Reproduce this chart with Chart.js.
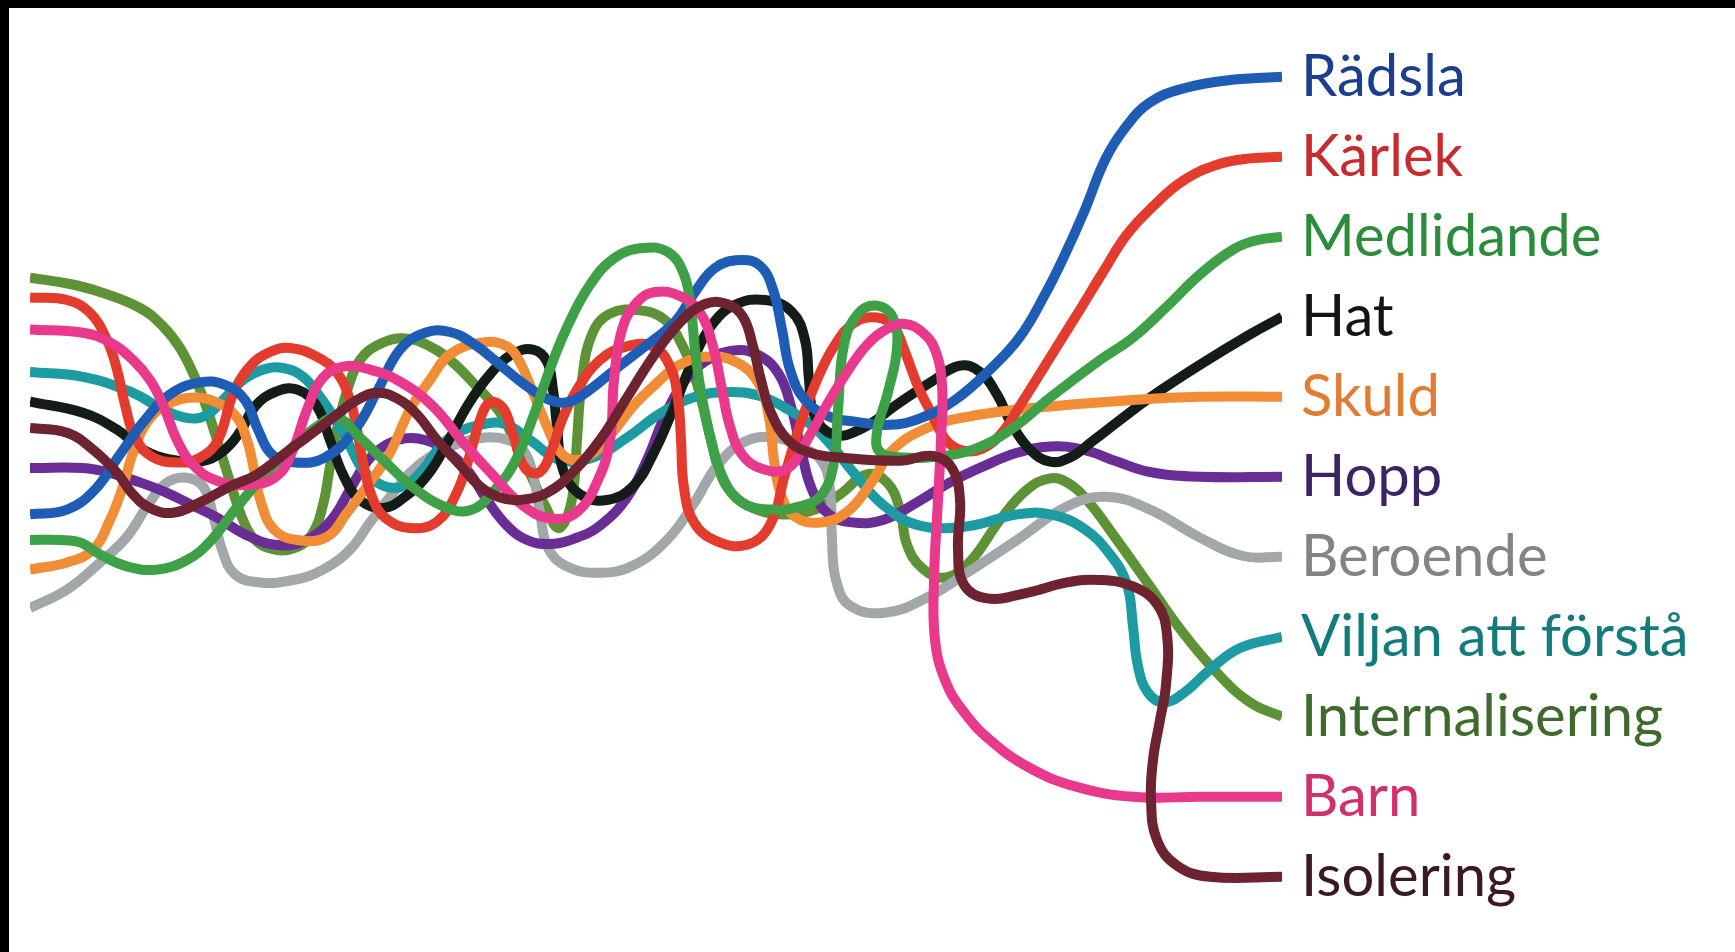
<!DOCTYPE html>
<html>
<head>
<meta charset="utf-8">
<script src="https://cdn.jsdelivr.net/npm/chart.js@4/dist/chart.umd.min.js"></script>
<style>
  html, body { margin: 0; padding: 0; background: #ffffff; overflow: hidden; }
  #wrap { width: 1735px; height: 952px; }
</style>
</head>
<body>
<div id="wrap"><canvas id="c" width="1735" height="952"></canvas></div>
<script>
// Categories (label rows, top to bottom) and their row values
const categories = ["Rädsla", "Kärlek", "Medlidande", "Hat", "Skuld", "Hopp", "Beroende", "Viljan att förstå", "Internalisering", "Barn", "Isolering"];
const rowValues  = [100, 90, 80, 70, 60, 50, 40, 30, 20, 10, 0];

// Series values (x = progress, y = level)
const radslaX = [0,3.7,6.5,9.0,11.5,14.0,17.0,19.5,21.5,22.8,24.2,26.5,29.5,32.5,34.8,37.0,39.5,42.0,44.5,47.0,49.5,52.0,54.0,56.0,58.5,61.5,64.5,66.5,68.5,71.0,73.0,74.3,75.2,76.0,77.5,80.0,82.5,86.0,89.0,92.5,96.0,99.0,101.5,103.5,105.5,107.5,109.5,112.0,115.5,120.0,125.2];
const radslaY = [45.3,45.9,48.4,52.8,57.1,60.3,61.8,61.5,59.6,55.9,52.8,51.8,52.4,55.9,60.9,65.9,68.0,68.1,66.5,64.0,61.5,59.6,59.4,60.9,63.4,66.3,69.4,73.1,76.1,77.1,76.4,73.4,68.4,63.4,59.6,57.5,56.9,56.5,57.3,59.6,63.4,67.5,72.8,77.8,83.4,89.6,93.6,96.8,98.6,99.6,100];

const karlekX = [0,3.7,6.0,7.7,8.7,9.5,10.5,12.2,14.7,17.0,18.8,20.3,22.0,24.0,26.0,28.7,30.7,32.0,32.7,33.3,34.2,35.5,38.0,40.7,42.7,44.0,45.0,46.0,47.3,48.3,49.5,51.0,52.3,53.2,54.7,57.0,59.7,62.3,64.0,64.8,65.1,65.4,66.4,68.6,71.7,74.0,75.5,77.0,78.7,80.5,82.5,84.7,86.3,87.5,88.8,90.2,91.6,93.2,95.2,97.2,99.2,102.3,105.0,107.3,109.7,112.3,115.3,118.7,122.0,125.2];
const karlekY = [72.4,72.1,70.5,67.1,63.4,59.0,55.0,52.5,51.8,52.4,54.6,60.3,63.8,65.6,66.1,65.0,63.0,59.6,55.9,51.8,47.5,44.9,43.6,44.4,48.1,52.8,57.1,59.3,58.6,55.3,51.1,50.6,53.8,57.1,60.9,64.6,66.3,66.3,63.8,59.6,54.6,48.6,44.3,42.0,41.5,44.0,50.3,56.5,62.1,66.5,69.3,69.9,68.9,65.6,61.3,57.8,54.6,53.3,53.5,55.5,59.3,65.5,70.9,75.6,80.3,83.8,87.0,89.0,89.8,90];

const medlidandeX = [0,3.0,5.0,7.0,9.7,12.7,15.7,18.0,20.5,23.2,26.0,28.5,30.7,33.0,35.5,38.0,41.0,44.0,46.5,48.5,50.2,51.8,53.6,56.0,58.5,61.3,63.8,65.4,66.1,66.5,67.1,68.1,69.4,71.2,74.0,77.0,79.2,80.4,80.8,81.4,82.8,84.7,86.3,86.7,85.8,84.7,85.0,87.5,90.5,94.3,98.3,102.0,107.0,110.3,113.7,117.0,120.3,122.8,125.2];
const medlidandeY = [42.1,42.1,41.8,40.3,38.8,38.4,39.6,41.9,45.9,49.9,53.4,56.1,57.4,54.9,51.9,49.0,46.5,45.8,48.4,51.9,57.1,62.8,68.4,74.0,77.4,78.6,78.1,75.3,70.9,65.9,60.6,54.6,49.6,46.8,45.9,46.3,47.8,51.9,58.4,66.5,70.4,71.4,69.9,66.1,60.6,55.6,53.1,52.4,52.5,53.4,56.1,59.9,64.6,67.4,71.3,75.3,78.4,79.6,80];

const hatX = [0,5.3,8.7,11.3,14.3,17.0,19.2,21.0,22.5,24.5,26.7,28.7,30.0,31.3,33.0,35.3,37.5,39.8,41.8,43.8,46.0,48.2,50.3,51.7,52.3,52.7,53.3,55.0,57.7,60.3,62.3,64.3,66.3,68.2,70.5,73.5,76.2,77.5,77.9,78.4,80.3,83.0,87.0,90.3,93.0,95.0,96.7,98.2,100.0,102.0,104.0,106.2,109.0,112.0,117.0,122.0,125.2];
const hatY = [59.4,58.0,55.9,53.4,52.1,51.9,53.1,55.6,58.8,60.6,60.9,58.8,54.6,50.3,47.1,46.1,47.5,50.3,54.4,59.0,62.8,65.3,65.9,64.4,60.9,56.3,50.9,47.8,47.1,48.8,52.8,58.4,64.6,69.0,71.5,72.1,70.6,67.1,62.1,57.8,55.3,55.9,59.3,62.0,63.9,63.1,60.3,56.5,53.4,51.9,52.4,54.4,57.1,59.9,64.0,67.8,70];

const skuldX = [0,3.7,6.3,8.0,9.3,10.3,11.7,13.7,16.5,19.0,20.7,21.7,22.4,23.1,24.4,26.7,29.7,31.7,33.7,36.0,38.0,40.0,42.0,45.3,47.7,49.0,50.3,51.7,53.0,54.5,56.5,58.3,60.3,62.5,64.7,67.5,70.5,72.8,73.9,74.4,75.1,76.5,79.0,81.7,84.2,86.3,89.7,93.7,100.3,110.3,117.0,125.2];
const skuldY = [38.4,39.3,40.9,44.6,48.8,53.0,56.8,59.0,59.9,59.1,57.4,54.6,50.9,46.8,43.4,42.1,42.5,45.5,48.8,53.0,58.4,62.1,65.3,66.8,66.3,64.3,60.5,56.3,53.1,52.1,53.1,55.6,58.8,61.5,63.8,65.0,64.4,61.8,57.4,52.1,47.8,45.0,44.3,45.6,49.4,53.4,56.1,57.5,58.6,59.6,60,60];

const hoppX = [0,5.3,8.0,11.0,13.7,16.3,18.7,21.5,24.5,27.3,30.0,32.0,33.7,35.5,37.5,39.5,41.5,43.7,45.7,47.7,49.7,52.0,54.5,57.0,59.7,61.8,63.3,65.2,67.5,70.5,73.0,74.9,76.1,77.1,78.2,79.8,82.2,85.3,88.7,92.0,95.5,98.7,102.0,105.3,108.7,112.0,117.0,125.2];
const hoppY = [51.1,51.1,50.5,49.3,48.0,46.4,44.9,42.8,41.5,41.9,44.4,48.4,51.9,53.9,54.8,54.6,53.4,50.9,47.1,43.9,42.1,41.6,42.3,43.9,47.4,52.4,57.1,61.5,64.4,65.8,65.1,62.8,58.8,53.4,48.4,45.4,44.3,44.6,46.8,49.3,51.4,53.0,53.8,53.4,51.9,50.6,50,50];

const beroendeX = [0,3.7,7.0,9.7,11.7,13.5,15.5,17.3,18.3,19.2,20.5,23.0,26.3,29.3,32.0,34.0,36.0,38.0,40.0,42.5,45.5,47.8,49.3,50.3,51.0,51.8,53.7,57.0,60.3,63.7,66.3,68.8,71.5,74.3,77.0,79.2,80.0,80.2,80.6,82.0,85.5,89.7,93.7,98.7,103.7,107.7,112.0,117.0,121.3,125.2];
const beroendeY = [33.6,35.9,39.3,42.5,46.3,49.1,49.9,48.8,45.3,40.9,37.8,36.8,37.1,38.4,40.9,44.3,47.5,50.5,52.5,54.0,54.9,54.6,53.4,50.3,45.5,41.1,38.8,38.0,38.9,42.1,46.5,51.5,54.4,54.9,53.8,51.9,48.4,42.1,37.1,33.9,33.0,34.9,38.0,42.1,46.3,47.5,45.9,42.4,40.1,40];

const viljanX = [0,5.3,10.3,13.0,15.5,17.5,19.3,21.3,23.3,25.3,27.3,29.0,30.7,32.0,33.3,35.3,37.3,39.3,41.0,42.7,45.0,47.5,50.0,53.0,56.3,59.7,63.0,66.3,69.7,73.0,75.7,78.3,80.5,82.5,85.3,88.7,93.7,98.7,102.0,105.3,108.0,109.7,110.3,110.8,111.8,113.4,115.5,118.0,121.0,125.2];
const viljanY = [63.1,62.5,60.5,58.6,57.4,57.6,59.6,62.1,63.4,63.6,62.5,60.0,56.8,53.8,50.9,48.9,48.8,50.9,53.8,55.5,56.5,56.6,54.6,52.1,52.4,54.9,57.9,59.9,60.6,60.1,58.5,56.3,53.4,50.3,46.5,44.0,43.8,45.3,45.3,43.6,40.3,36.5,31.3,26.3,23.0,21.8,23.1,25.9,28.6,30];

const internaliseringX = [0,4.0,7.0,11.0,13.3,15.0,16.5,17.8,19.0,20.1,21.2,22.5,24.5,26.5,28.2,29.3,30.0,30.8,31.8,33.0,35.0,37.5,40.0,42.2,44.5,47.0,48.7,50.3,51.7,52.8,53.8,54.4,54.7,55.2,56.2,58.0,61.0,63.5,65.2,66.4,67.3,68.1,69.0,70.3,72.3,75.3,78.5,81.0,83.7,85.7,87.0,87.7,89.2,91.5,94.0,97.0,99.7,102.0,103.7,105.7,108.7,112.0,115.3,118.7,122.0,125.2];
const internaliseringY = [74.9,74.1,73.1,71.1,68.8,66.1,62.4,58.1,53.4,49.0,44.9,42.1,40.9,41.1,42.8,46.5,51.3,56.5,61.1,64.6,66.6,67.3,66.3,64.4,61.5,58.0,53.8,49.6,45.9,43.6,45.3,49.0,54.6,62.1,67.8,70.4,70.8,69.6,66.5,62.8,58.8,54.6,50.5,47.8,46.1,45.3,45.9,47.8,50.3,49.3,45.9,41.5,38.6,37.4,39.4,44.6,48.4,49.8,49.3,47.1,42.1,36.3,30.5,25.5,21.8,20];

const barnX = [0,5.3,8.0,10.3,12.0,13.3,14.7,16.3,18.7,22.0,24.7,26.3,27.7,29.3,31.5,34.0,37.0,40.3,43.3,46.0,49.2,52.0,54.7,56.8,58.0,58.4,59.2,60.7,62.5,65.0,67.0,68.3,69.2,70.0,71.2,73.2,75.7,77.7,79.7,81.7,83.7,85.7,87.5,89.2,90.5,91.2,91.1,90.8,90.4,90.5,91.5,93.2,96.0,100.0,104.5,110.3,117.0,125.2];
const barnY = [68.4,68.0,66.8,64.6,62.1,59.0,54.6,51.5,49.5,49.0,50.1,53.4,58.4,62.4,63.8,63.4,61.9,58.8,54.3,50.6,46.5,44.8,45.6,49.6,54.6,62.1,68.4,71.8,73.1,72.6,70.5,66.3,60.9,56.3,52.8,51.0,51.0,54.6,59.0,63.1,66.5,68.5,69.1,68.1,65.9,61.5,54.6,47.1,37.1,29.6,24.6,20.9,17.1,13.6,11.3,10.0,10,10];

const isoleringX = [0,3.7,6.3,8.7,10.3,12.0,14.3,17.0,20.0,22.7,26.0,28.7,30.7,32.7,34.7,36.7,38.7,40.7,43.0,45.0,47.0,49.0,51.7,54.3,57.0,59.7,62.3,65.0,67.5,69.7,71.3,72.3,73.1,74.1,75.8,78.0,81.0,87.0,90.3,92.2,93.0,92.8,93.4,95.7,99.7,103.7,107.0,110.3,112.7,113.7,113.6,113.0,112.3,112.1,112.7,114.7,118.0,125.2];
const isoleringY = [56.1,55.5,53.4,50.5,47.8,46.1,45.5,46.8,48.8,50.3,53.4,55.9,57.8,59.6,60.5,59.8,57.8,54.6,51.5,48.8,47.4,47.1,48.0,50.6,54.6,59.9,65.0,69.3,71.6,71.6,70.0,66.3,62.1,58.0,54.6,53.0,52.4,52.0,52.6,51.1,47.1,41.1,36.5,34.8,35.5,36.8,37.1,36.3,34.1,30.3,24.0,19.6,14.6,9.6,4.6,1.4,0,0];

// Styles
const lineColors = ["#1e5cb6", "#e33b2d", "#3ea147", "#141c18", "#f18d36", "#6a2c95", "#a2a7a9", "#1c9ba2", "#5e9236", "#e8398d", "#6e2331"];
const textColors = ["#1b3f8e", "#c72b2f", "#2b8c3c", "#141414", "#e27c33", "#3c2366", "#7f8486", "#147b7d", "#3e6b2d", "#d2306b", "#3b1a1f"];

const seriesX = [radslaX, karlekX, medlidandeX, hatX, skuldX, hoppX, beroendeX, viljanX, internaliseringX, barnX, isoleringX];
const seriesY = [radslaY, karlekY, medlidandeY, hatY, skuldY, hoppY, beroendeY, viljanY, internaliseringY, barnY, isoleringY];

const drawOrder = [3, 4, 2, 6, 5, 8, 9, 7, 10, 1, 0];

const datasets = categories.map((name, i) => ({
  label: name,
  data: seriesX[i].map((x, k) => ({ x: x, y: seriesY[i][k] })),
  borderColor: lineColors[i],
  backgroundColor: lineColors[i],
  borderWidth: 10,
  borderCapStyle: 'butt',
  borderJoinStyle: 'round',
  pointRadius: 0,
  pointHoverRadius: 0,
  showLine: true,
  fill: false,
  tension: 0.42,
  order: drawOrder[i]
}));

const frame = {
  id: 'frame',
  beforeDraw(chart) {
    const ctx = chart.ctx;
    ctx.save();
    ctx.fillStyle = '#ffffff';
    ctx.fillRect(0, 0, chart.width, chart.height);
    ctx.fillStyle = '#000000';
    ctx.fillRect(0, 0, chart.width, 8);
    ctx.fillRect(0, 0, 9, chart.height);
    ctx.restore();
  }
};

new Chart(document.getElementById('c'), {
  type: 'scatter',
  data: { datasets: datasets },
  plugins: [frame],
  options: {
    responsive: false,
    devicePixelRatio: 1,
    animation: false,
    layout: { padding: { left: 30, right: 0, top: 0, bottom: 0 } },
    plugins: { legend: { display: false }, tooltip: { enabled: false } },
    elements: { line: { capBezierPoints: false } },
    scales: {
      x: { type: 'linear', min: 0, max: 125.2, display: false },
      y: {
        type: 'linear',
        position: 'right',
        min: -9.4,
        max: 109.6,
        grid: { display: false, drawTicks: false },
        border: { display: false },
        afterBuildTicks(scale) {
          scale.ticks = rowValues.map(v => ({ value: v }));
        },
        afterFit(scale) {
          scale.width = 453;
          scale.paddingTop = 0;
          scale.paddingBottom = 0;
        },
        ticks: {
          autoSkip: false,
          padding: 19,
          font: { family: 'Lato', size: 58 },
          color: (ctx) => textColors[rowValues.indexOf(ctx.tick.value)],
          callback: (value) => categories[rowValues.indexOf(value)]
        }
      }
    }
  }
});
</script>
</body>
</html>
